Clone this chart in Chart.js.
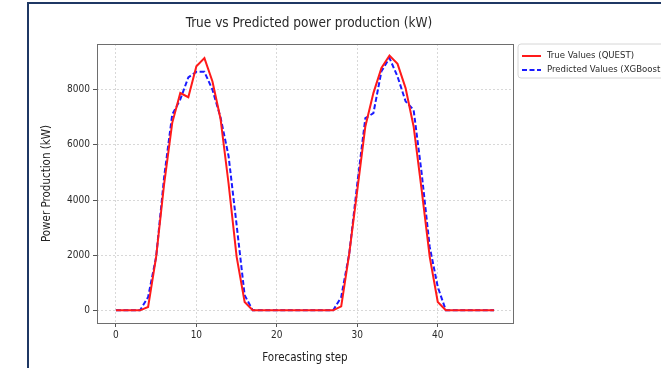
<!DOCTYPE html>
<html>
<head>
<meta charset="utf-8">
<script src="https://cdn.jsdelivr.net/npm/chart.js@4.4.0/dist/chart.umd.min.js"></script>
<style>
  body{margin:0;background:#fff;overflow:hidden;}
  #frame{position:absolute;left:27px;top:2px;width:700px;height:400px;border-left:2px solid #1f3864;border-top:2px solid #1f3864;}
  #wrap{position:absolute;left:0;top:0;width:661px;height:368px;}
</style>
</head>
<body>
<div id="frame"></div>
<div id="wrap"><canvas id="mycanvas" width="661" height="368"></canvas></div>
<script>
var steps=[0,1,2,3,4,5,6,7,8,9,10,11,12,13,14,15,16,17,18,19,20,21,22,23,24,25,26,27,28,29,30,31,32,33,34,35,36,37,38,39,40,41,42,43,44,45,46,47];
var trueVals=[0,0,0,0,120,1940,4600,6800,7880,7730,8850,9150,8300,6950,4600,1950,300,0,
              0,0,0,0,0,0,0,0,0,0,145,2060,4360,6670,7880,8790,9240,8940,8060,6670,4360,1940,300,0,
              0,0,0,0,0,0];
var predVals=[0,0,0,0,480,1940,4850,7100,7650,8450,8650,8650,8000,7000,5600,3100,550,0,
              0,0,0,0,0,0,0,0,0,0,480,2060,4600,6970,7150,8670,9150,8480,7580,7270,4970,2300,850,0,
              0,0,0,0,0,0];
var xTicks=[0,10,20,30,40];
var yTicks=[0,2000,4000,6000,8000];
var seriesNames=['True Values (QUEST)','Predicted Values (XGBoost)'];

var FONT="'DejaVu Sans Condensed','DejaVu Sans',sans-serif";

function pts(vals){
  var out=[];
  for(var i=0;i<steps.length;i++){ out.push({x:steps[i],y:vals[i]}); }
  return out;
}

// spines, title and legend like matplotlib
var extras={
  id:'extras',
  afterDraw:function(chart){
    var c=chart.ctx, a=chart.chartArea;
    c.save();
    c.strokeStyle='#6e6e6e';
    c.lineWidth=1;
    c.strokeRect(Math.round(a.left)+0.5,Math.round(a.top)+0.5,Math.round(a.right-a.left),Math.round(a.bottom-a.top));

    c.fillStyle='#2a2a2a';
    c.font='13.5px '+FONT;
    c.textAlign='center';
    c.textBaseline='middle';
    c.fillText('True vs Predicted power production (kW)',(a.left+a.right)/2+4,23);

    // legend
    var lx=518, ly=44, lw=170, lh=34, r=3;
    c.beginPath();
    c.moveTo(lx+r,ly);c.lineTo(lx+lw-r,ly);c.quadraticCurveTo(lx+lw,ly,lx+lw,ly+r);
    c.lineTo(lx+lw,ly+lh-r);c.quadraticCurveTo(lx+lw,ly+lh,lx+lw-r,ly+lh);
    c.lineTo(lx+r,ly+lh);c.quadraticCurveTo(lx,ly+lh,lx,ly+lh-r);
    c.lineTo(lx,ly+r);c.quadraticCurveTo(lx,ly,lx+r,ly);
    c.fillStyle='rgba(255,255,255,0.9)';c.fill();
    c.strokeStyle='#d6d6d6';c.stroke();
    c.font='9.5px '+FONT;
    c.textAlign='left';
    chart.data.datasets.forEach(function(ds,i){
      var y=ly+12+i*14;
      c.strokeStyle=ds.borderColor;
      c.lineWidth=2;
      c.setLineDash(ds.borderDash||[]);
      c.beginPath();c.moveTo(lx+4,y);c.lineTo(lx+23,y);c.stroke();
      c.setLineDash([]);
      c.fillStyle='#2a2a2a';
      c.fillText(ds.label,lx+29,y);
    });
    c.restore();
  }
};

var chartdata={
  datasets:[
    {
      label:seriesNames[0],
      data:pts(trueVals),
      borderColor:'#ff1a1a',
      backgroundColor:'#ff1a1a',
      borderWidth:2,
      pointRadius:0,
      tension:0
    },
    {
      label:seriesNames[1],
      data:pts(predVals),
      borderColor:'#1a1aff',
      backgroundColor:'#1a1aff',
      borderWidth:2,
      borderDash:[5,2.5],
      pointRadius:0,
      tension:0
    }
  ]
};

var gridOpts={color:'#cfcfcf',lineWidth:0.8,tickLength:4,tickColor:'#555',tickBorderDash:[],tickWidth:1};

var ctx=document.getElementById('mycanvas');
var lineGraph=new Chart(ctx,{
  type:'line',
  data:chartdata,
  plugins:[extras],
  options:{
    responsive:false,
    animation:false,
    layout:{padding:{left:36,right:148,top:44,bottom:0}},
    plugins:{legend:{display:false},title:{display:false},tooltip:{enabled:false}},
    scales:{
      x:{
        type:'linear',
        min:-2.35,max:49.35,
        afterBuildTicks:function(s){ s.ticks=xTicks.map(function(v){return {value:v};}); },
        afterFit:function(s){ s.height=45; },
        grid:gridOpts,
        border:{display:false,dash:[2,2]},
        ticks:{color:'#2a2a2a',font:{family:FONT,size:10},padding:2,maxRotation:0,callback:function(v){return String(v);}},
        title:{display:true,text:'Forecasting step',color:'#222',font:{family:FONT,size:11.5},padding:{top:4,bottom:3}}
      },
      y:{
        type:'linear',
        min:-460,max:9660,
        afterBuildTicks:function(s){ s.ticks=yTicks.map(function(v){return {value:v};}); },
        afterFit:function(s){ s.width=61; },
        grid:gridOpts,
        border:{display:false,dash:[2,2]},
        ticks:{color:'#2a2a2a',font:{family:FONT,size:10},padding:3,callback:function(v){return String(v);}},
        title:{display:true,text:'Power Production (kW)',color:'#222',font:{family:FONT,size:11.5},padding:{top:4,bottom:4}}
      }
    }
  }
});
</script>
</body>
</html>
